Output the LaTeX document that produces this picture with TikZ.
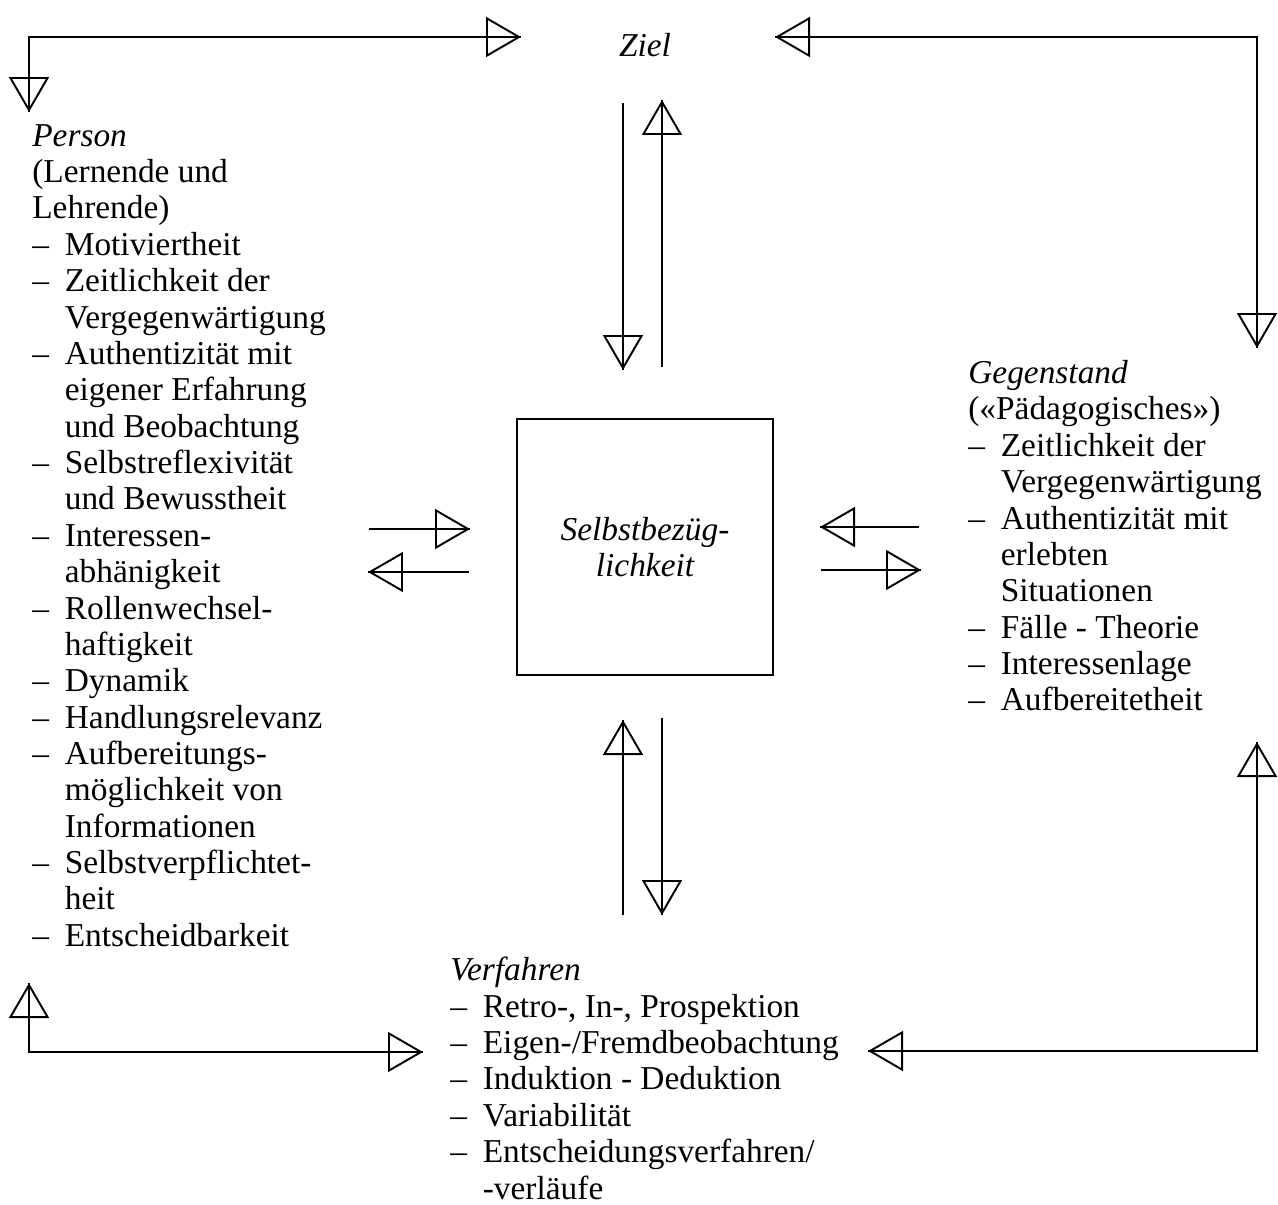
\documentclass[tikz,border=0pt]{standalone}
\usepackage{fontspec}
\setmainfont{Liberation Serif}
\usetikzlibrary{arrows.meta}

\newcommand{\strich}{\makebox[0.65cm][l]{–}}
\newcommand{\einzug}{\hspace*{0.65cm}}

\begin{document}
\begin{tikzpicture}[x=0.02cm, y=-0.02cm,
            block/.style={align=left, inner sep=0pt, anchor=north west, font=\fontsize{19}{20.7}\selectfont},
            titel/.style={inner sep=0pt, font=\fontsize{19}{20.7}\selectfont\itshape},
            kasten/.style={draw, line width=1.1pt, minimum width=5.12cm, minimum height=5.12cm, align=center, font=\fontsize{19}{20.7}\selectfont\itshape},
            pfeil/.style={line width=1.1pt, -{Triangle[open, length=0.7cm, width=0.8cm]}, postaction={draw, -}},
            doppelpfeil/.style={line width=1.1pt, {Triangle[open, length=0.7cm, width=0.8cm]}-{Triangle[open, length=0.7cm, width=0.8cm]}, postaction={draw, -}},
        ]
            \useasboundingbox (0,0) rectangle (1278,1204);

            % Ziel und Selbstbezueglichkeit
            \node[titel] (ziel) at (645,45) {Ziel};
            \node[kasten] (selbst) at (645,547) {Selbstbezüg-\\lichkeit};

            % Person
            \node[block] (person) at (32,124) {\textit{Person}\\
                (Lernende und\\
                Lehrende)\\
                \strich Motiviertheit\\
                \strich Zeitlichkeit der\\
                \einzug Vergegenwärtigung\\
                \strich Authentizität mit\\
                \einzug eigener Erfahrung\\
                \einzug und Beobachtung\\
                \strich Selbstreflexivität\\
                \einzug und Bewusstheit\\
                \strich Interessen-\\
                \einzug abhänigkeit\\
                \strich Rollenwechsel-\\
                \einzug haftigkeit\\
                \strich Dynamik\\
                \strich Handlungsrelevanz\\
                \strich Aufbereitungs-\\
                \einzug möglichkeit von\\
                \einzug Informationen\\
                \strich Selbstverpflichtet-\\
                \einzug heit\\
                \strich Entscheidbarkeit};

            % Gegenstand
            \node[block] (gegenstand) at (968,360) {\textit{Gegenstand}\\
                («Pädagogisches»)\\
                \strich Zeitlichkeit der\\
                \einzug Vergegenwärtigung\\
                \strich Authentizität mit\\
                \einzug erlebten\\
                \einzug Situationen\\
                \strich Fälle - Theorie\\
                \strich Interessenlage\\
                \strich Aufbereitetheit};

            % Verfahren
            \node[block] (verfahren) at (450,957) {\textit{Verfahren}\\
                \strich Retro-, In-, Prospektion\\
                \strich Eigen-/Fremdbeobachtung\\
                \strich Induktion - Deduktion\\
                \strich Variabilität\\
                \strich Entscheidungsverfahren/\\
                \einzug -verläufe};

            % aeussere Verbindungen
            \draw[doppelpfeil] ([shift={(-3,-12)}]person.north west) |- ([shift={(-124,-8)}]ziel.center);
            \draw[doppelpfeil] ([shift={(130,-8)}]ziel.center) -| ([shift={(289,-12)}]gegenstand.north west);
            \draw[doppelpfeil] ([shift={(289,382)}]gegenstand.north west) |- ([shift={(418,94)}]verfahren.north west);
            \draw[doppelpfeil] ([shift={(-3,859)}]person.north west) |- ([shift={(-27,95)}]verfahren.north west);

            % Pfeile zum Kasten
            \draw[pfeil] ([shift={(-22,-444)}]selbst.center) -- ([shift={(-22,-177)}]selbst.center);
            \draw[pfeil] ([shift={(17,-180)}]selbst.center) -- ([shift={(17,-447)}]selbst.center);
            \draw[pfeil] ([shift={(-22,368)}]selbst.center) -- ([shift={(-22,173)}]selbst.center);
            \draw[pfeil] ([shift={(17,171)}]selbst.center) -- ([shift={(17,368)}]selbst.center);
            \draw[pfeil] ([shift={(-276,-18)}]selbst.center) -- ([shift={(-175,-18)}]selbst.center);
            \draw[pfeil] ([shift={(-176,25)}]selbst.center) -- ([shift={(-277,25)}]selbst.center);
            \draw[pfeil] ([shift={(274,-20)}]selbst.center) -- ([shift={(175,-20)}]selbst.center);
            \draw[pfeil] ([shift={(176,23)}]selbst.center) -- ([shift={(276,23)}]selbst.center);
        \end{tikzpicture}
\end{document}
